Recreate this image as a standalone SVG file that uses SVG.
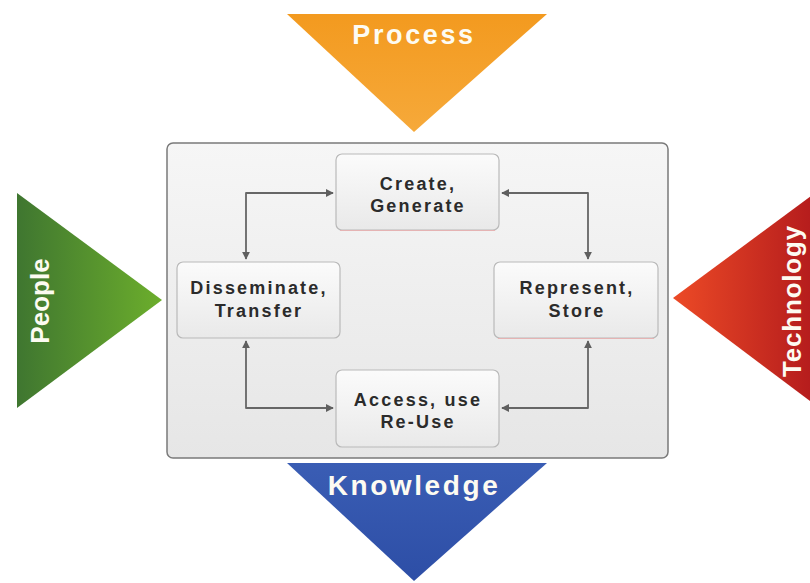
<svg xmlns="http://www.w3.org/2000/svg" width="810" height="583" viewBox="0 0 810 583">
<defs>
  <linearGradient id="gOrange" x1="0" y1="0" x2="0" y2="1">
    <stop offset="0" stop-color="#f39a1f"/>
    <stop offset="1" stop-color="#f6a93a"/>
  </linearGradient>
  <linearGradient id="gBlue" x1="0" y1="0" x2="0" y2="1">
    <stop offset="0" stop-color="#3a5db4"/>
    <stop offset="1" stop-color="#2d4ea6"/>
  </linearGradient>
  <linearGradient id="gGreen" x1="0" y1="0" x2="1" y2="0">
    <stop offset="0" stop-color="#3f7630"/>
    <stop offset="1" stop-color="#6cae2c"/>
  </linearGradient>
  <linearGradient id="gRed" x1="0" y1="0" x2="1" y2="0">
    <stop offset="0" stop-color="#ec4a26"/>
    <stop offset="1" stop-color="#b1191c"/>
  </linearGradient>
  <linearGradient id="gPanel" x1="0" y1="0" x2="0" y2="1">
    <stop offset="0" stop-color="#f6f6f6"/>
    <stop offset="1" stop-color="#e6e6e6"/>
  </linearGradient>
  <linearGradient id="gBox" x1="0" y1="0" x2="0" y2="1">
    <stop offset="0" stop-color="#fbfbfb"/>
    <stop offset="1" stop-color="#e9e9e9"/>
  </linearGradient>
  <marker id="arr" viewBox="0 0 10 10" refX="9" refY="5" markerWidth="8" markerHeight="8" markerUnits="userSpaceOnUse" orient="auto-start-reverse">
    <path d="M0,0 L10,5 L0,10 z" fill="#5f5f5f"/>
  </marker>
</defs>
<style>
  .big { font-family: "Liberation Sans", Arial, sans-serif; font-weight: bold; fill: #fdfbf2; }
  .lbl { font-family: "Liberation Sans", Arial, sans-serif; font-weight: bold; font-size: 18px; letter-spacing: 2.2px; fill: #2b2b2b; text-anchor: middle; }
  .box { fill: url(#gBox); stroke: #b9b9b9; stroke-width: 1.2; }
  .shadow { fill: none; stroke: #e5b3b3; stroke-width: 1.2; }
  .conn { fill: none; stroke: #666; stroke-width: 1.8; stroke-linejoin: round; marker-start: url(#arr); marker-end: url(#arr); }
</style>

<g id="process">
  <polygon points="287,14 547,14 414,132" fill="url(#gOrange)"/>
  <text class="big" x="414" y="44" font-size="27" letter-spacing="2.6" text-anchor="middle">Process</text>
</g>

<g id="people">
  <polygon points="17,193 17,408 162,300" fill="url(#gGreen)"/>
  <text class="big" transform="translate(49,301) rotate(-90)" font-size="26" text-anchor="middle">People</text>
</g>

<g id="technology">
  <polygon points="673,298 822,188 822,410" fill="url(#gRed)"/>
  <text class="big" transform="translate(801,301) rotate(-90)" font-size="26" letter-spacing="0.8" text-anchor="middle">Technology</text>
</g>

<g id="knowledge">
  <polygon points="287,463 547,463 414,581" fill="url(#gBlue)"/>
  <text class="big" x="414" y="495" font-size="28" letter-spacing="2.6" text-anchor="middle">Knowledge</text>
</g>

<g id="panel">
  <rect x="167" y="143" width="501" height="315" rx="6" fill="url(#gPanel)" stroke="#7a7a7a" stroke-width="1.5"/>
</g>

<g id="create">
  <rect class="box" x="336" y="154" width="163" height="76" rx="6"/>
  <path class="shadow" d="M340,230.5 L495,230.5"/>
  <text class="lbl" x="418" y="190">Create,</text>
  <text class="lbl" x="418" y="212">Generate</text>
</g>

<g id="disseminate">
  <rect class="box" x="177" y="262" width="163" height="76" rx="6"/>
  <text class="lbl" x="259" y="294">Disseminate,</text>
  <text class="lbl" x="259" y="317">Transfer</text>
</g>

<g id="represent">
  <rect class="box" x="494" y="262" width="164" height="76" rx="6"/>
  <path class="shadow" d="M498,338.5 L654,338.5"/>
  <text class="lbl" x="577" y="294">Represent,</text>
  <text class="lbl" x="577" y="317">Store</text>
</g>

<g id="access">
  <rect class="box" x="336" y="370" width="163" height="77" rx="6"/>
  <text class="lbl" x="418" y="406">Access, use</text>
  <text class="lbl" x="418" y="428">Re-Use</text>
</g>

<g id="connectors">
  <path class="conn" d="M246,259 L246,193 L333,193"/>
  <path class="conn" d="M502,193 L588,193 L588,259"/>
  <path class="conn" d="M246,341 L246,408 L333,408"/>
  <path class="conn" d="M588,341 L588,408 L502,408"/>
</g>
</svg>
